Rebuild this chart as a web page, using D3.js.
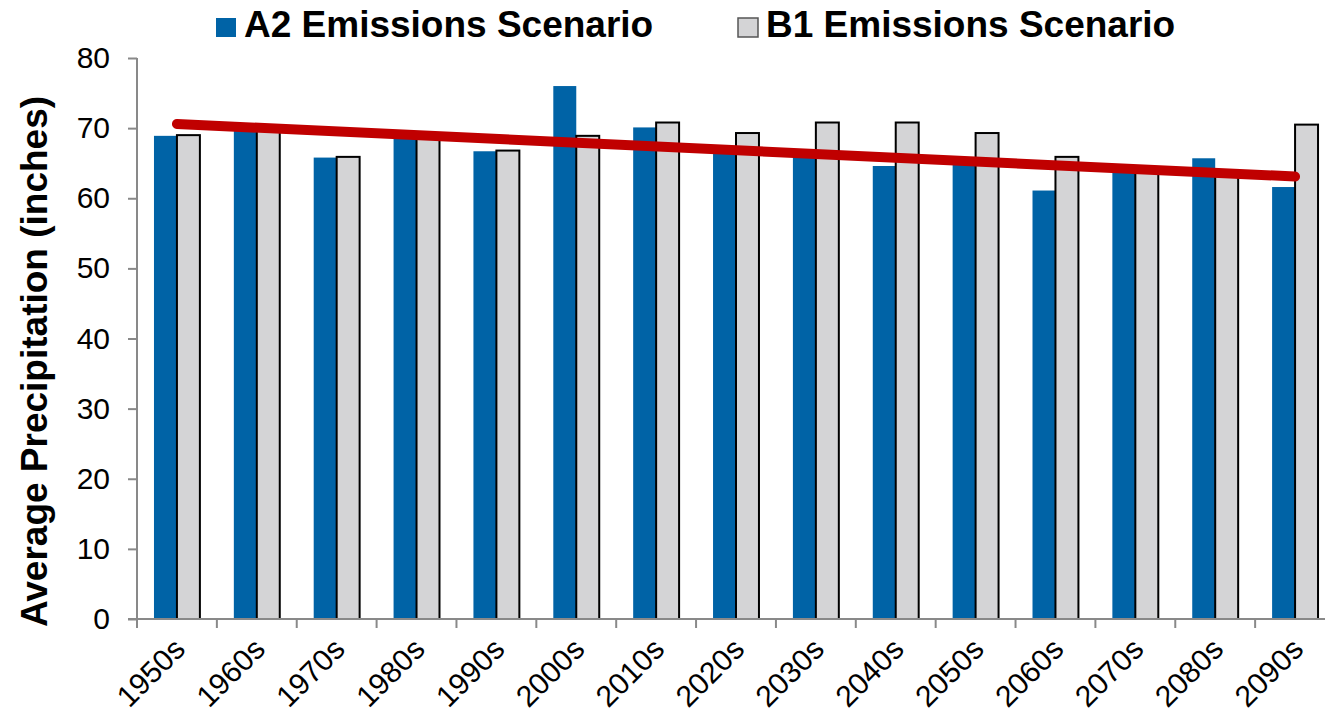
<!DOCTYPE html>
<html>
<head>
<meta charset="utf-8">
<script src="https://cdn.jsdelivr.net/npm/d3@7"></script>
<style>
  html, body { margin: 0; padding: 0; background: #fff; }
  svg { display: block; font-family: "Liberation Sans", Arial, sans-serif; }
</style>
</head>
<body>
<svg id="chart" width="1325" height="718"></svg>
<script>
// Decadal average precipitation under two emissions scenarios
const decades = ["1950s","1960s","1970s","1980s","1990s","2000s","2010s","2020s",
                 "2030s","2040s","2050s","2060s","2070s","2080s","2090s"];
const a2Values = [68.9, 70.1, 65.8, 68.8, 66.7, 76.0, 70.1, 67.0, 66.2, 64.6, 65.0, 61.1, 64.1, 65.7, 61.6];
const b1Values = [69.0, 70.3, 65.9, 68.8, 66.8, 68.9, 70.8, 69.3, 70.8, 70.8, 69.3, 65.9, 64.1, 63.4, 70.5];
// Linear trend of the A2 series at the first and last decade
const a2Trend = [
  { decade: "1950s", value: 70.6 },
  { decade: "2090s", value: 63.1 }
];
const yTicks = [0, 10, 20, 30, 40, 50, 60, 70, 80];
const seriesNames = ["A2 Emissions Scenario", "B1 Emissions Scenario"];

const svg = d3.select("#chart");
const plot = { left: 137, right: 1335, top: 58, bottom: 619 };

const x = d3.scaleBand().domain(decades).range([plot.left, plot.right]);
const y = d3.scaleLinear().domain([0, 80]).range([plot.bottom, plot.top]);
const barW = x.bandwidth() * 0.2875;

const colors = { a2: "#0063a6", b1: "#d4d4d6", trend: "#c00000", axis: "#898989" };

// Bars
const g = svg.append("g");
g.selectAll("rect.a2").data(decades).join("rect")
  .attr("class", "a2")
  .attr("x", d => x(d) + x.bandwidth() / 2 - barW)
  .attr("y", (d, i) => y(a2Values[i]))
  .attr("width", barW)
  .attr("height", (d, i) => y(0) - y(a2Values[i]))
  .attr("fill", colors.a2);

g.selectAll("rect.b1").data(decades).join("rect")
  .attr("class", "b1")
  .attr("x", d => x(d) + x.bandwidth() / 2)
  .attr("y", (d, i) => y(b1Values[i]))
  .attr("width", barW)
  .attr("height", (d, i) => y(0) - y(b1Values[i]))
  .attr("fill", colors.b1)
  .attr("stroke", "#000")
  .attr("stroke-width", 2);

// Axes
const yAxis = d3.axisLeft(y).tickValues(yTicks).tickSize(9).tickPadding(18);
const yG = svg.append("g").attr("transform", `translate(${plot.left},0)`).call(yAxis);
yG.select(".domain").attr("stroke", colors.axis).attr("stroke-width", 2)
  .attr("d", `M0,${plot.top}V${plot.bottom}`);
yG.selectAll(".tick line").attr("stroke", colors.axis).attr("stroke-width", 2);
yG.selectAll(".tick text").attr("font-size", 30).attr("fill", "#000")
  .attr("font-family", "'Liberation Sans', Arial, sans-serif");

const xG = svg.append("g").attr("transform", `translate(0,${plot.bottom})`);
xG.append("line").attr("x1", plot.left - 9).attr("x2", plot.right)
  .attr("stroke", colors.axis).attr("stroke-width", 2);
const boundaries = decades.map(d => x(d)).concat([plot.right]);
xG.selectAll("line.tick").data(boundaries).join("line")
  .attr("class", "tick")
  .attr("x1", d => d).attr("x2", d => d)
  .attr("y1", 0).attr("y2", 9)
  .attr("stroke", colors.axis).attr("stroke-width", 2);
xG.selectAll("text").data(decades).join("text")
  .attr("text-anchor", "end")
  .attr("font-size", 30)
  .attr("transform", d => `translate(${x(d) + x.bandwidth() / 2 + 10},${32}) rotate(-45)`)
  .text(d => d);

// Trend line
const trendLine = d3.line()
  .x(d => x(d.decade) + x.bandwidth() / 2)
  .y(d => y(d.value));
svg.append("path").datum(a2Trend)
  .attr("d", trendLine)
  .attr("fill", "none")
  .attr("stroke", colors.trend)
  .attr("stroke-width", 10)
  .attr("stroke-linecap", "round");

// Y axis title
svg.append("text")
  .attr("transform", `translate(47,${(95 + 628) / 2}) rotate(-90)`)
  .attr("text-anchor", "middle")
  .attr("font-size", 37)
  .attr("font-weight", "bold")
  .text("Average Precipitation (inches)");

// Legend
const legend = [
  { name: seriesNames[0], x: 216, fill: colors.a2, stroke: "none" },
  { name: seriesNames[1], x: 738, fill: colors.b1, stroke: "#555" }
];
const lg = svg.append("g").selectAll("g").data(legend).join("g");
lg.append("rect")
  .attr("x", d => d.x).attr("y", 18)
  .attr("width", 20).attr("height", 19)
  .attr("fill", d => d.fill)
  .attr("stroke", d => d.stroke).attr("stroke-width", 1.5);
lg.append("text")
  .attr("x", d => d.x + 28).attr("y", 37)
  .attr("font-size", 37)
  .attr("font-weight", "bold")
  .text(d => d.name);
</script>
</body>
</html>
